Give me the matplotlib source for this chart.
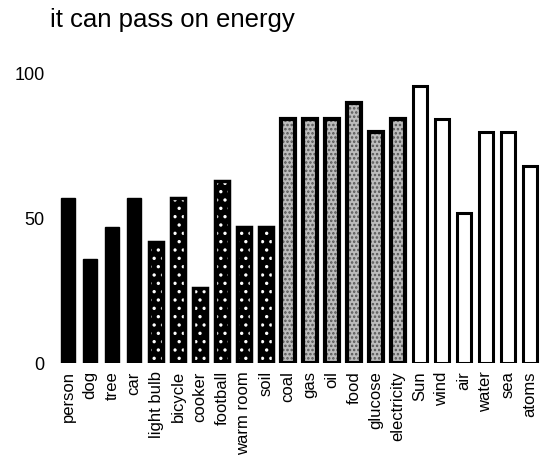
import matplotlib
matplotlib.use("Agg")
import matplotlib.pyplot as plt

plt.rcParams['font.family'] = ['Liberation Sans', 'DejaVu Sans']

categories = ["person", "dog", "tree", "car", "light bulb", "bicycle", "cooker",
              "football", "warm room", "soil", "coal", "gas", "oil", "food",
              "glucose", "electricity", "Sun", "wind", "air", "water", "sea", "atoms"]
values = [57, 36, 47, 57, 42, 57, 26, 63, 47, 47, 84.5, 84.5, 84.5, 90, 80, 84.5,
          96, 84.5, 52, 80, 80, 68]
groups = ["solid"] * 4 + ["dark"] * 6 + ["light"] * 6 + ["white"] * 6
yticks = [0, 50, 100]
title = "it can pass on energy"

W, H = 542, 459
fig = plt.figure(figsize=(W / 100, H / 100), dpi=100)
ax = fig.add_axes([57 / W, 1 - 363 / H, 484 / W, (363 - 74) / H])

x = list(range(len(categories)))
width = 0.68
plt.rcParams['hatch.linewidth'] = 1.2
for xi, v, g in zip(x, values, groups):
    if g == "solid":
        ax.bar(xi, v, width, color="black", edgecolor="black", linewidth=1)
    elif g == "dark":
        ax.bar(xi, v, width, facecolor="black", edgecolor="white", hatch="..", linewidth=0)
        ax.bar(xi, v, width, fill=False, edgecolor="black", linewidth=2.5)
    elif g == "light":
        ax.bar(xi, v, width, facecolor="#bdbdbd", edgecolor="#555555", hatch="....", linewidth=0)
        ax.bar(xi, v, width, fill=False, edgecolor="black", linewidth=3)
    else:
        ax.bar(xi, v, width, facecolor="white", edgecolor="black", linewidth=2.2)

ax.set_xlim(-0.5, len(categories) - 0.5)
ax.set_ylim(0, 100)
ax.set_xticks(x)
ax.set_xticklabels(categories, rotation=90, fontsize=12)
ax.set_yticks(yticks)
ax.set_yticklabels([str(t) for t in yticks], fontsize=13)
ax.tick_params(axis='both', length=0)
ax.tick_params(axis='y', pad=9)
ax.tick_params(axis='x', pad=6)
for s in ax.spines.values():
    s.set_visible(False)

fig.text(50 / W, 1 - 20 / H, title, fontsize=18.5, va='center', ha='left')

fig.savefig("out.png", dpi=100)
